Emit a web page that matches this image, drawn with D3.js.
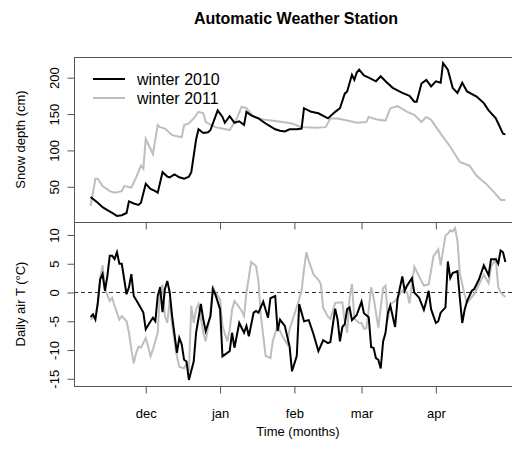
<!DOCTYPE html>
<html>
<head>
<meta charset="utf-8">
<script src="https://cdn.jsdelivr.net/npm/d3@7"></script>
<style>
  body { margin: 0; background: #fff; }
  svg { font-family: "Liberation Sans", Arial, sans-serif; }
</style>
</head>
<body>
<div id="chart"></div>
<script>
// days are counted from 1 November
const monthLabels = ["dec", "jan", "feb", "mar", "apr"];
const monthDays = [30, 61, 92, 120, 151];

const snowDays2010 = [7, 10, 12, 14, 16, 18, 20, 22, 23, 25, 27, 28, 30, 32, 34, 35, 37, 39, 40, 42, 44, 46, 48, 49, 51, 52, 54, 56, 57, 60, 62, 63, 65, 67, 69, 71, 72, 74, 77, 80, 82, 84, 86, 88, 90, 93, 95, 96, 99, 102, 106, 109, 111, 113, 114, 116, 117, 118, 119, 121, 123, 126, 128, 130, 133, 137, 140, 142, 143, 145, 147, 149, 151, 153, 154, 156, 158, 160, 162, 164, 168, 171, 173, 176, 179, 180];
const snow2010 = [36, 28, 22, 18, 14, 10, 11, 14, 30, 27, 25, 28, 54, 47, 44, 42, 70, 64, 63, 67, 63, 61, 64, 70, 115, 129, 124, 125, 128, 155, 146, 138, 147, 138, 140, 135, 153, 148, 144, 137, 133, 129, 127, 126, 129, 129, 130, 158, 153, 151, 144, 153, 158, 178, 181, 204, 197, 207, 211, 203, 200, 195, 202, 195, 186, 179, 175, 167, 167, 192, 197, 188, 195, 193, 220, 211, 186, 179, 193, 181, 174, 165, 155, 144, 123, 122];

const snowDays2011 = [7, 9, 10, 12, 15, 17, 20, 21, 24, 26, 28, 29, 30, 32, 33, 35, 36, 38, 41, 45, 46, 48, 50, 52, 54, 55, 59, 65, 68, 70, 72, 75, 80, 87, 91, 95, 101, 105, 107, 110, 114, 118, 122, 123, 127, 130, 132, 135, 139, 142, 145, 147, 149, 153, 157, 161, 165, 168, 172, 176, 178, 180];
const snow2011 = [24, 61, 61, 51, 44, 42, 44, 51, 49, 63, 79, 75, 116, 102, 95, 135, 132, 130, 121, 118, 135, 137, 144, 153, 151, 139, 132, 128, 144, 160, 158, 146, 142, 139, 137, 132, 131, 132, 144, 144, 141, 138, 139, 146, 142, 141, 158, 161, 153, 149, 139, 146, 142, 123, 105, 84, 79, 65, 54, 40, 32, 32];

const tempDays2010 = [7, 8, 9, 10, 11, 12, 13, 14, 15, 16, 17, 18, 19, 20, 22, 23, 24, 25, 27, 29, 30, 32, 33, 34, 35, 36, 37, 38, 39, 40, 41, 43, 44, 45, 46, 47, 48, 50, 51, 53, 54, 55, 57, 58, 59, 61, 62, 64, 65, 66, 67, 69, 71, 72, 73, 75, 76, 77, 79, 81, 82, 84, 85, 86, 88, 90, 91, 93, 94, 96, 98, 100, 102, 104, 106, 107, 109, 110, 111, 112, 113, 114, 115, 116, 118, 120, 121, 123, 124, 125, 126, 127, 128, 129, 130, 131, 132, 134, 135, 137, 138, 139, 141, 142, 144, 146, 147, 148, 149, 151, 152, 153, 155, 156, 157, 158, 160, 161, 162, 163, 164, 166, 167, 169, 171, 173, 174, 176, 177, 178, 179, 180];
const temp2010 = [-4.3, -3.8, -4.7, -1.8, 2.3, 3.2, 0.3, 2.9, 6.4, 6.4, 5.8, 7, 5, 5, -0.3, 0.9, 3.2, -0.6, -2, -3.5, -6.4, -5, -4.4, -5, -0.6, 0.9, -3.4, 0.6, 2, 0, -4.1, -10.5, -7.9, -9, -11.7, -12, -15.2, -12, -7, -2, -4.7, -6.7, -4.1, 0.6, -0.3, -2.9, -11.1, -10.5, -10.2, -7, -9.6, -5.3, -7, -5.8, -7.6, -3.5, -3.2, -3.5, -1.6, -4.4, -1, -0.6, -6.7, -4.7, -5.8, -9.4, -13.7, -11, -2, -5, -4.8, -7.3, -10.2, -8.3, -8.8, -8.6, -2.8, -4.7, -8.5, -6, -5.5, -2.9, -2.6, -4.8, -3.9, -1.6, -3.6, -4.3, -9.5, -9.6, -11.4, -11.7, -13.2, -8.5, -7, -3.5, -2.3, -6, -1.2, 2.8, 0.3, 1.2, 2.5, 0, -0.9, -3, -1.5, 0.3, -2.9, -5.3, -5, -3.5, -2.6, 5.4, 2.5, 3.4, 3.7, -1, -5.3, -3, -1.5, 0.3, 0.6, 2.3, 4.7, 3, 5.8, 5.8, 5, 7.3, 7, 5.3];

const tempDays2011 = [7, 9, 10, 11, 12, 13, 15, 16, 17, 18, 19, 20, 22, 23, 24, 25, 26, 27, 28, 30, 31, 32, 33, 35, 36, 37, 38, 39, 40, 41, 43, 44, 46, 47, 48, 49, 50, 51, 52, 54, 55, 57, 58, 59, 61, 62, 64, 65, 66, 67, 68, 70, 71, 72, 74, 76, 77, 78, 80, 82, 83, 85, 87, 89, 90, 93, 95, 96, 97, 98, 100, 102, 103, 104, 106, 107, 109, 112, 113, 114, 115, 116, 117, 119, 120, 121, 122, 123, 124, 125, 127, 129, 130, 131, 132, 134, 137, 139, 140, 142, 144, 146, 148, 150, 152, 153, 155, 156, 157, 158, 159, 160, 161, 163, 164, 167, 169, 171, 173, 174, 176, 177, 178, 180];
const temp2011 = [-4.7, -4.1, -2, 2.6, 4.7, 0.6, -1.5, -0.9, -2.3, -3.5, -4.7, -4.1, -5, -7, -9.9, -12.3, -10.5, -9.4, -9.6, -7.9, -9.4, -11.1, -9.9, -7, 0.9, 1.2, -4.1, -5.3, -1.2, -5.8, -11.1, -12.9, -13.2, -12.3, -13.7, -2.3, -5.3, -2.9, -2, -7, -8.5, -3.5, 1.2, 0, -1.2, -5.8, -8.5, -6.5, -3, -1.5, -2, -3.2, -4.1, 0, 5.3, 4.6, 2, -4, -11, -11.4, -8.4, -5.8, -7.6, -9, -6.4, -2.5, 0.3, 4, 7, 5.5, 3.1, 2.2, 1.5, -2.7, -4.2, -4.6, -1.8, -1.7, -5, -7, -1, 1.5, -4.5, -5.3, -5.3, -6.3, -6.2, -3, 0.9, -0.8, -6.1, 0.8, 1.2, -4.7, -2, -1.5, 0.3, 0, -1.9, 4.5, 2.8, 1.2, 1.4, 6.3, 7.5, 4.7, 9.9, 10.2, 10.8, 10.6, 11.2, 9, 3.3, -0.4, -1.8, -0.3, 1.4, 3.1, 1.6, 4.5, 5.8, 1, 0, -0.8];

const width = 512, height = 454;
const left = 74, right = 522;
const topY = [57, 222], botY = [222, 386];

const svg = d3.select("#chart").append("svg")
    .attr("width", width)
    .attr("height", height);

// R style 4% padding on the data range
function padded(ext) {
    const p = (ext[1] - ext[0]) * 0.04;
    return [ext[0] - p, ext[1] + p];
}

const allDays = snowDays2010.concat(snowDays2011, tempDays2010, tempDays2011);
const x = d3.scaleLinear().domain(padded(d3.extent(allDays))).range([left, right]);
const ySnow = d3.scaleLinear().domain(padded(d3.extent(snow2010.concat(snow2011)))).range([topY[1], topY[0]]);
const yTemp = d3.scaleLinear().domain(padded(d3.extent(temp2010.concat(temp2011)))).range([botY[1], botY[0]]);

function pairs(days, vals) { return days.map((d, i) => [d, vals[i]]); }

svg.append("clipPath").attr("id", "clipTop").append("rect")
    .attr("x", left).attr("y", topY[0]).attr("width", right - left).attr("height", topY[1] - topY[0]);
svg.append("clipPath").attr("id", "clipBot").append("rect")
    .attr("x", left).attr("y", botY[0]).attr("width", right - left).attr("height", botY[1] - botY[0]);

// title
svg.append("text")
    .attr("x", (left + right) / 2 - 2)
    .attr("y", 24)
    .style("text-anchor", "middle")
    .style("font-size", "16px")
    .style("font-weight", "bold")
    .text("Automatic Weather Station");

// ---- top panel: snow depth
const snowLine = d3.line().x(d => x(d[0])).y(d => ySnow(d[1]));
const gTop = svg.append("g").attr("clip-path", "url(#clipTop)");
gTop.append("path").datum(pairs(snowDays2011, snow2011))
    .attr("d", snowLine).attr("fill", "none").attr("stroke", "#bebebe").attr("stroke-width", 2);
gTop.append("path").datum(pairs(snowDays2010, snow2010))
    .attr("d", snowLine).attr("fill", "none").attr("stroke", "#000").attr("stroke-width", 2);

svg.append("rect")
    .attr("x", left + 0.5).attr("y", topY[0] + 0.5)
    .attr("width", right - left).attr("height", topY[1] - topY[0])
    .attr("fill", "none").attr("stroke", "#555");

const ySnowAxis = svg.append("g")
    .attr("transform", `translate(${left + 0.5},0)`)
    .call(d3.axisLeft(ySnow).tickValues([50, 100, 150, 200]).tickSize(7));
ySnowAxis.select(".domain").remove();

const xTopAxis = svg.append("g")
    .attr("transform", `translate(0,${topY[1] + 0.5})`)
    .call(d3.axisBottom(x).tickValues(monthDays).tickSize(7).tickFormat(""));
xTopAxis.select(".domain").remove();

svg.append("text")
    .attr("transform", `translate(25,${(topY[0] + topY[1]) / 2}) rotate(-90)`)
    .style("text-anchor", "middle")
    .style("font-size", "13px")
    .text("Snow depth (cm)");

// legend
const legendNames = ["winter 2010", "winter 2011"];
const legendColors = ["#000", "#bebebe"];
legendNames.forEach((name, i) => {
    const ly = 79 + i * 19;
    svg.append("line")
        .attr("x1", 93).attr("x2", 125).attr("y1", ly).attr("y2", ly)
        .attr("stroke", legendColors[i]).attr("stroke-width", 2);
    svg.append("text")
        .attr("x", 137).attr("y", ly + 6)
        .style("font-size", "16px")
        .text(name);
});

// ---- bottom panel: daily air temperature
const tempLine = d3.line().x(d => x(d[0])).y(d => yTemp(d[1]));
const gBot = svg.append("g").attr("clip-path", "url(#clipBot)");
gBot.append("line")
    .attr("x1", left).attr("x2", right)
    .attr("y1", yTemp(0)).attr("y2", yTemp(0))
    .attr("stroke", "#333").attr("stroke-dasharray", "4,3");
gBot.append("path").datum(pairs(tempDays2011, temp2011))
    .attr("d", tempLine).attr("fill", "none").attr("stroke", "#bebebe").attr("stroke-width", 2);
gBot.append("path").datum(pairs(tempDays2010, temp2010))
    .attr("d", tempLine).attr("fill", "none").attr("stroke", "#000").attr("stroke-width", 2);

svg.append("rect")
    .attr("x", left + 0.5).attr("y", botY[0] + 0.5)
    .attr("width", right - left).attr("height", botY[1] - botY[0])
    .attr("fill", "none").attr("stroke", "#555");

const yTempAxis = svg.append("g")
    .attr("transform", `translate(${left + 0.5},0)`)
    .call(d3.axisLeft(yTemp).tickValues([-15, -10, -5, 0, 5, 10]).tickSize(7).tickFormat(d => String(d)));
yTempAxis.select(".domain").remove();

const xAxis = svg.append("g")
    .attr("transform", `translate(0,${botY[1] + 0.5})`)
    .call(d3.axisBottom(x).tickValues(monthDays).tickSize(7).tickFormat((d, i) => monthLabels[i]));
xAxis.select(".domain").remove();
xAxis.selectAll("text").attr("y", 31).attr("dy", 0).style("font-size", "13px").attr("fill", "#000");

svg.append("text")
    .attr("transform", `translate(25,${(botY[0] + botY[1]) / 2}) rotate(-90)`)
    .style("text-anchor", "middle")
    .style("font-size", "13px")
    .text("Daily air T (\u00B0C)");

svg.append("text")
    .attr("x", (left + right) / 2)
    .attr("y", 436)
    .style("text-anchor", "middle")
    .style("font-size", "13px")
    .text("Time (months)");

// rotated y tick labels, like R
[ySnowAxis, yTempAxis].forEach(g => {
    g.selectAll(".tick line").attr("stroke", "#555");
    g.selectAll("text")
        .attr("x", null).attr("dy", null)
        .attr("transform", "translate(-16,0) rotate(-90)")
        .style("text-anchor", "middle")
        .style("font-size", "13px")
        .attr("font-family", null)
        .attr("fill", "#000");
    g.attr("font-family", null).attr("font-size", null);
});
[xTopAxis, xAxis].forEach(g => {
    g.selectAll(".tick line").attr("stroke", "#555");
    g.attr("font-family", null);
});
</script>
</body>
</html>
